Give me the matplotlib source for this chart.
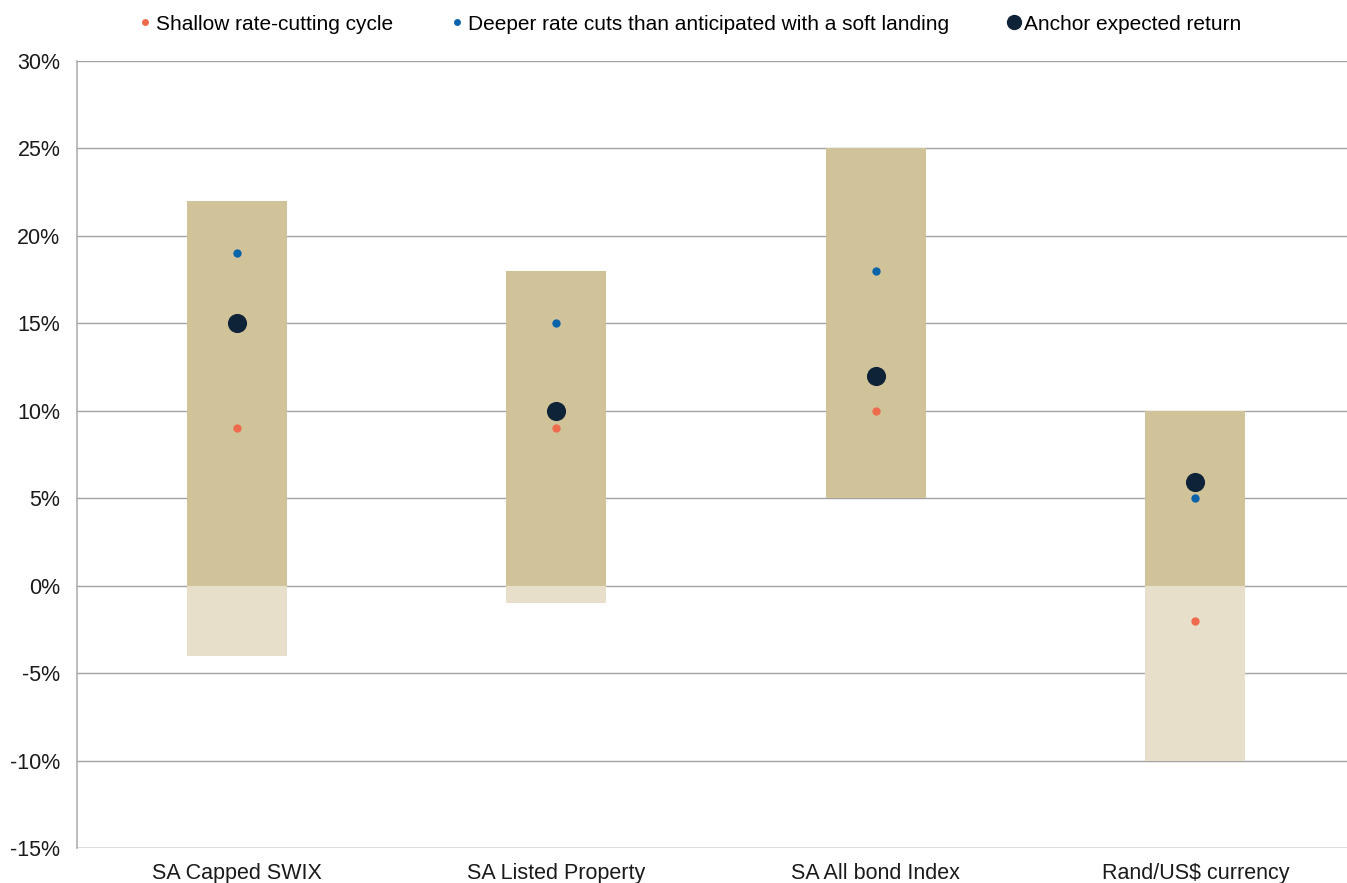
import matplotlib
matplotlib.use("Agg")
import matplotlib.pyplot as plt
from matplotlib.ticker import FuncFormatter
from matplotlib.lines import Line2D

plt.rcParams['font.family'] = ['Liberation Sans', 'DejaVu Sans']

categories = ["SA Capped SWIX", "SA Listed Property", "SA All bond Index", "Rand/US$ currency"]
range_high = [22, 18, 25, 10]
range_low = [-4, -1, 5, -10]
anchor = [15, 10, 12, 5.9]
shallow = [9, 9, 10, -2]
deeper = [19, 15, 18, 5]

gold = "#D1C399"
gold_light = "#E8DFCB"
c_shallow = "#EE6B4D"
c_deeper = "#0B63AA"
c_anchor = "#0E2238"
grid_c = "#A3A3A3"

fig = plt.figure(figsize=(13.47, 8.83), dpi=100)
ax = fig.add_axes([77 / 1347, 1 - 848 / 883, 1270 / 1347, (848 - 61) / 883])

x = list(range(len(categories)))
w = 0.313
for i in x:
    top = range_high[i]
    low = range_low[i]
    pos_bottom = max(low, 0)
    ax.bar(i, top - pos_bottom, bottom=pos_bottom, width=w, color=gold, zorder=2)
    if low < 0:
        ax.bar(i, 0 - low, bottom=low, width=w, color=gold_light, zorder=2)

ax.scatter(x, shallow, s=36, color=c_shallow, zorder=4, linewidths=0)
ax.scatter(x, deeper, s=36, color=c_deeper, zorder=4, linewidths=0)
ax.scatter(x, anchor, s=190, color=c_anchor, zorder=5, linewidths=0)

ax.set_ylim(-15, 30)
ax.set_xlim(-0.5, -0.5 + 1270 / 319.5)
ax.set_yticks(range(-15, 31, 5))
ax.yaxis.set_major_formatter(FuncFormatter(lambda v, p: f"{int(v)}%"))
ax.set_xticks(x)
ax.set_xticklabels(categories)
ax.tick_params(axis='both', length=0, labelsize=15.5, colors="#1a1a1a")
ax.tick_params(axis='y', pad=12)
ax.tick_params(axis='x', pad=11)
ax.grid(axis='y', color=grid_c, linewidth=1, zorder=0)
ax.set_axisbelow(True)
for s in ['top', 'right', 'bottom']:
    ax.spines[s].set_visible(False)
ax.spines['left'].set_color("#B0B0B0")
ax.spines['left'].set_linewidth(1.2)
ax.axhline(-15, color=grid_c, linewidth=1, zorder=1)

handles = [
    Line2D([], [], marker='o', linestyle='none', markersize=5, color=c_shallow, markeredgewidth=0),
    Line2D([], [], marker='o', linestyle='none', markersize=5, color=c_deeper, markeredgewidth=0),
    Line2D([], [], marker='o', linestyle='none', markersize=11, color=c_anchor, markeredgewidth=0),
]
labels = ["Shallow rate-cutting cycle",
          "Deeper rate cuts than anticipated with a soft landing",
          "Anchor expected return"]
fig.legend(handles, labels, loc='center', bbox_to_anchor=(688 / 1347, 1 - 24 / 883), ncol=3,
           frameon=False, fontsize=15, handletextpad=0.0, columnspacing=2.6,
           handlelength=1.0)

fig.savefig("out.png", dpi=100)
